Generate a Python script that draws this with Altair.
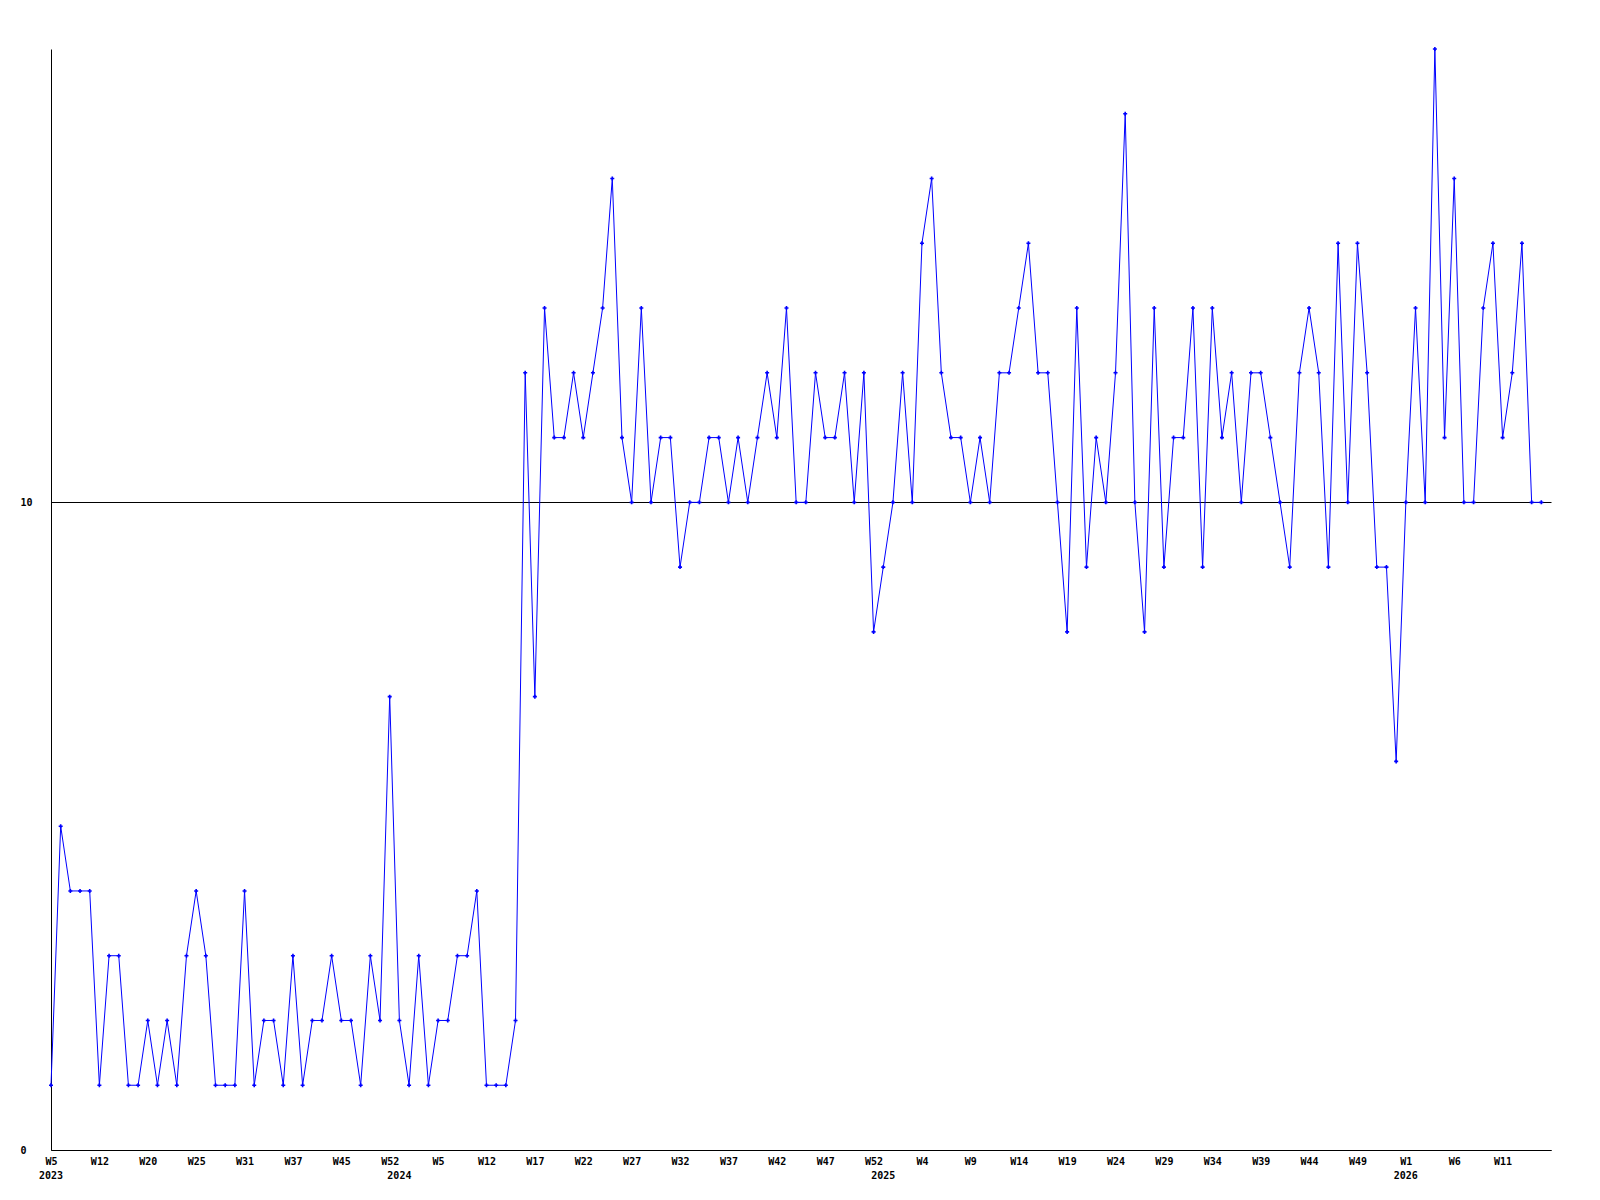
import altair as alt
import pandas as pd

# weekly values, one per point (index 0 = 2023 W5)
values = [
    1, 5, 4, 4, 4, 1, 3, 3, 1, 1,
    2, 1, 2, 1, 3, 4, 3, 1, 1, 1,
    4, 1, 2, 2, 1, 3, 1, 2, 2, 3,
    2, 2, 1, 3, 2, 7, 2, 1, 3, 1,
    2, 2, 3, 3, 4, 1, 1, 1, 2, 12,
    7, 13, 11, 11, 12, 11, 12, 13, 15, 11,
    10, 13, 10, 11, 11, 9, 10, 10, 11, 11,
    10, 11, 10, 11, 12, 11, 13, 10, 10, 12,
    11, 11, 12, 10, 12, 8, 9, 10, 12, 10,
    14, 15, 12, 11, 11, 10, 11, 10, 12, 12,
    13, 14, 12, 12, 10, 8, 13, 9, 11, 10,
    12, 16, 10, 8, 13, 9, 11, 11, 13, 9,
    13, 11, 12, 10, 12, 12, 11, 10, 9, 12,
    13, 12, 9, 14, 10, 14, 12, 9, 9, 6,
    10, 13, 10, 17, 11, 15, 10, 10, 13, 14,
    11, 12, 14, 10, 10,
]

# tick labels, one every 5 points
week_labels = [
    "W5", "W12", "W20", "W25", "W31", "W37", "W45", "W52",
    "W5", "W12", "W17", "W22", "W27", "W32", "W37", "W42", "W47", "W52",
    "W4", "W9", "W14", "W19", "W24", "W29", "W34", "W39", "W44", "W49",
    "W1", "W6", "W11",
]
tick_step = 5

# year labels and the point index where each year starts
year_names = ["2023", "2024", "2025", "2026"]
year_pos = [0, 36, 86, 140]

df = pd.DataFrame({"idx": list(range(len(values))), "value": values})
years_df = pd.DataFrame({"pos": year_pos, "year": year_names})

W, H = 1500, 1101
FONT = "DejaVu Sans Mono"

label_expr = "[" + ",".join(f"'{w}'" for w in week_labels) + "][round(datum.value/%d)]" % tick_step
tick_values = [i * tick_step for i in range(len(week_labels))]

x_enc = alt.X(
    "idx:Q",
    scale=alt.Scale(domain=[0, 155], nice=False, zero=False),
    axis=alt.Axis(
        values=tick_values,
        labelExpr=label_expr,
        title=None,
        grid=False,
        ticks=False,
        domainColor="black",
        domainWidth=1,
        labelFont=FONT,
        labelFontWeight="bold",
        labelFontSize=10,
        labelColor="black",
        labelPadding=6,
        labelFlush=False,
        labelOverlap=False,
    ),
)
y_enc = alt.Y(
    "value:Q",
    scale=alt.Scale(domain=[0, 17], nice=False),
    axis=alt.Axis(
        values=[0, 10],
        format="d",
        title=None,
        grid=True,
        gridColor="black",
        gridOpacity=1,
        gridWidth=1,
        ticks=False,
        domainColor="black",
        domainWidth=1,
        labelFont=FONT,
        labelFontWeight="bold",
        labelFontSize=10,
        labelColor="black",
        labelAlign="left",
        labelPadding=31,
    ),
)

line = alt.Chart(df).mark_line(color="#0000ff", strokeWidth=1).encode(x=x_enc, y=y_enc)
pts = alt.Chart(df).mark_point(
    shape="cross", filled=True, size=16, color="#0000ff", opacity=1
).encode(x="idx:Q", y="value:Q")
years = alt.Chart(years_df).mark_text(
    font=FONT, fontWeight="bold", fontSize=10, color="black", baseline="top", align="center"
).encode(x="pos:Q", y=alt.value(H + 21), text="year:N")

chart = (
    alt.layer(line, pts, years)
    .properties(
        width=W,
        height=H,
        padding={"left": 43, "top": 41, "right": 30, "bottom": 40},
        autosize=alt.AutoSizeParams(type="none"),
        background="white",
    )
    .configure_view(stroke=None)
)

chart.save("out.html", embed_options={"renderer": "svg", "actions": False})
